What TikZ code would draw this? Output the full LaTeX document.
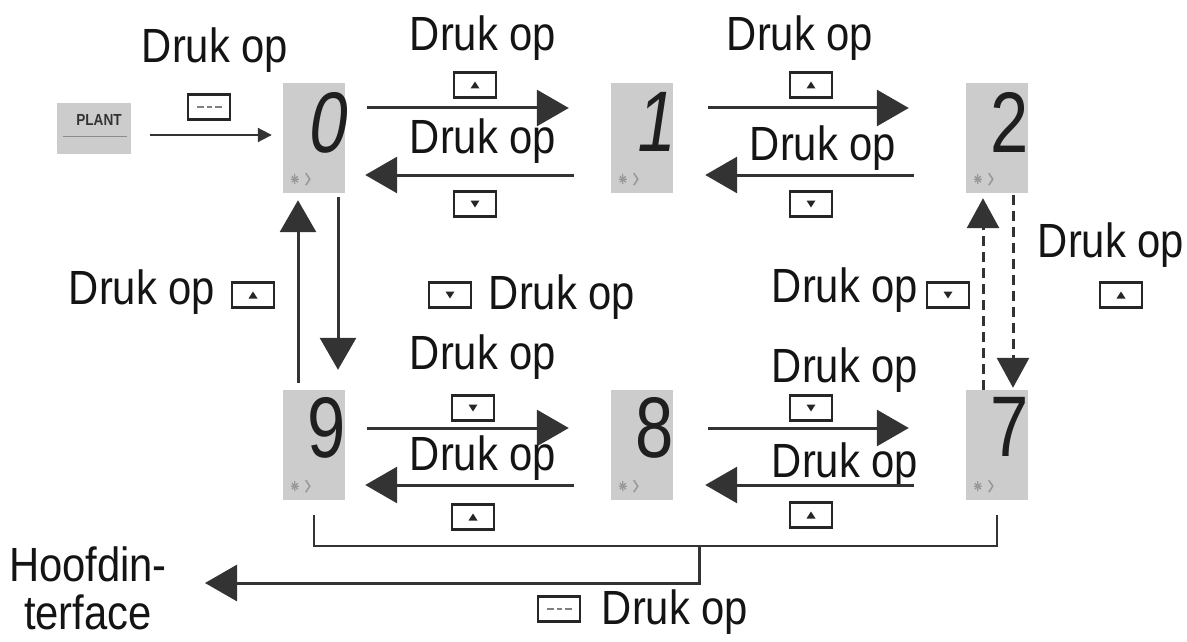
\documentclass[tikz,border=0pt]{standalone}
\usepackage{fontspec}
\setmainfont{Liberation Sans}
\newfontfamily\lblfont[FakeStretch=0.87]{Liberation Sans}
\newfontfamily\digfont[FakeStretch=0.8]{Liberation Sans}
\newfontfamily\digslfont[FakeSlant=0.15,FakeStretch=0.8]{Liberation Sans}
\newfontfamily\plfont[FakeStretch=0.85]{Liberation Sans}
\usetikzlibrary{arrows.meta,calc}
\newcommand\dispicons[1]{%
  \draw[black!40,line width=1.3pt] ([xshift=12pt,yshift=14pt]#1.south west) +(-4,0) -- +(4,0) +(0,-5) -- +(0,5) +(-3,-3) -- +(3,3) +(-3,3) -- +(3,-3);
  \draw[black!40,line width=1.6pt] ([xshift=23pt,yshift=14pt]#1.south west) +(0,-6) -- +(4,0) -- +(0,6);}
\begin{document}
\begin{tikzpicture}[x=1pt,y=-1pt,
  lbl/.style={font=\lblfont\fontsize{48}{48}\selectfont, inner sep=0pt, text=black!92},
  disp/.style={fill=black!20, minimum width=62pt, minimum height=110pt, inner sep=0pt},
  dig/.style={font=\digfont\fontsize{86}{86}\selectfont, inner sep=0pt, anchor=north east, text=black!88},
  digsl/.style={dig, font=\digslfont\fontsize{86}{86}\selectfont},
  keybox/.style={draw=black!85, line width=2.5pt, minimum width=42pt, minimum height=25pt, inner sep=0pt},
  keyup/.style={keybox, path picture={\fill[black!85] ($(path picture bounding box.center)+(-4.5,3.5)$) -- ++(9,0) -- ++(-4.5,-7) -- cycle;}},
  keydn/.style={keybox, path picture={\fill[black!85] ($(path picture bounding box.center)+(-4.5,-3.5)$) -- ++(9,0) -- ++(-4.5,7) -- cycle;}},
  keymode/.style={keybox, path picture={\draw[black!50,line width=1.2pt] ($(path picture bounding box.center)+(-12,0)$) -- ++(7,0) ++(3,0) -- ++(5,0) ++(3,0) -- ++(7,0);}},
  big/.style={line width=3pt, draw=black!80, -{Triangle[length=32pt,width=36pt]}},
  dashedarrow/.style={line width=3pt, draw=black!80, dash pattern=on 10pt off 6pt, -{Triangle[length=30pt,width=32pt]}},
  thinarrow/.style={line width=2pt, draw=black!80, -{Triangle[length=14pt,width=14pt]}},
  bracket/.style={line width=2.5pt, draw=black!80}
]
\useasboundingbox (0,0) rectangle (1187,642);

% display boxes
\node[disp] (b0) at (314,138) {};
\node[disp] (b1) at (642,138) {};
\node[disp] (b2) at (997,138) {};
\node[disp] (b9) at (314,445) {};
\node[disp] (b8) at (642,445) {};
\node[disp] (b7) at (997,445) {};
\node[digsl] (d0) at ([xshift=0pt,yshift=-9pt]b0.north east) {0};
\node[digsl] (d1) at ([xshift=0pt,yshift=-9pt]b1.north east) {1};
\node[dig] (d2) at ([xshift=1pt,yshift=-9pt]b2.north east) {2};
\node[dig] (d9) at ([xshift=1pt,yshift=-7pt]b9.north east) {9};
\node[dig] (d8) at ([xshift=1pt,yshift=-7pt]b8.north east) {8};
\node[dig] (d7) at ([xshift=1pt,yshift=-7pt]b7.north east) {7};
\foreach \b in {b0,b1,b2,b9,b8,b7} {\dispicons{\b}}

% PLANT box
\node[fill=black!20, minimum width=74pt, minimum height=51pt, inner sep=0pt] (pl) at (94,128.5) {};
\node[font=\plfont\bfseries\fontsize{16}{16}\selectfont, text=black!80, inner sep=0pt] (plt) at (99,120) {PLANT};
\draw[black!45, line width=1.5pt] ([xshift=6pt,yshift=-8pt]pl.west) -- ([xshift=-4pt,yshift=-8pt]pl.east);
\node[keymode] (kpl) at (209,107) {};
\node[lbl] (lpl) at (215,50) {Druk op};
\draw[thinarrow] ([xshift=19pt,yshift=-6.5pt]pl.east) -- ([xshift=-11pt,yshift=3pt]b0.west);

% top row
\node[lbl] (l01t) at (483,38) {Druk op};
\node[keyup] (k01u) at (475,85) {};
\draw[big] ([xshift=22pt,yshift=30pt]b0.east) -- ([xshift=-42pt,yshift=30pt]b1.west);
\node[lbl] (l01m) at (483,141) {Druk op};
\draw[big] ([xshift=-37pt,yshift=-37pt]b1.west) -- ([xshift=20pt,yshift=-37pt]b0.east);
\node[keydn] (k01d) at (475,204) {};

\node[lbl] (l12t) at (800,38) {Druk op};
\node[keyup] (k12u) at (811,85) {};
\draw[big] ([xshift=35pt,yshift=30pt]b1.east) -- ([xshift=-57pt,yshift=30pt]b2.west);
\node[lbl] (l12m) at (823,148) {Druk op};
\draw[big] ([xshift=-52pt,yshift=-37pt]b2.west) -- ([xshift=32pt,yshift=-37pt]b1.east);
\node[keydn] (k12d) at (811,204) {};

% vertical 0 <-> 9
\draw[big] ([xshift=-16pt,yshift=7pt]b9.north) -- ([xshift=-16pt,yshift=-7pt]b0.south);
\draw[big] ([xshift=24pt,yshift=-4pt]b0.south) -- ([xshift=24pt,yshift=20pt]b9.north);
\node[lbl] (lL) at (142,292) {Druk op};
\node[keyup] (kL) at (253,295) {};
\node[keydn] (kM) at (450,295) {};
\node[lbl] (lM) at (562,297) {Druk op};

% vertical 2 <-> 7
\draw[dashedarrow] ([xshift=-14pt]b7.north) -- ([xshift=-14pt,yshift=-5pt]b2.south);
\draw[dashedarrow] ([xshift=16pt,yshift=-2pt]b2.south) -- ([xshift=16pt,yshift=2pt]b7.north);
\node[lbl] (l27l) at (845,290) {Druk op};
\node[keydn] (k27d) at (948,295) {};
\node[lbl] (l27r) at (1111,245) {Druk op};
\node[keyup] (k27u) at (1121,295) {};

% bottom row
\node[lbl] (l98t) at (483,357) {Druk op};
\node[keydn] (k98d) at (473,408) {};
\draw[big] ([xshift=22pt,yshift=17pt]b9.east) -- ([xshift=-42pt,yshift=17pt]b8.west);
\node[lbl] (l98m) at (483,458) {Druk op};
\draw[big] ([xshift=-37pt,yshift=-40pt]b8.west) -- ([xshift=20pt,yshift=-40pt]b9.east);
\node[keyup] (k98u) at (473,517) {};

\node[lbl] (l87t) at (845,370) {Druk op};
\node[keydn] (k87d) at (811,408) {};
\draw[big] ([xshift=35pt,yshift=17pt]b8.east) -- ([xshift=-57pt,yshift=17pt]b7.west);
\node[lbl] (l87m) at (845,465) {Druk op};
\draw[big] ([xshift=-52pt,yshift=-40pt]b7.west) -- ([xshift=32pt,yshift=-40pt]b8.east);
\node[keyup] (k87u) at (811,515) {};

% exit to main interface
\draw[bracket] ([yshift=-15pt]b9.south) -- ([yshift=-46pt]b9.south) -| ([yshift=-15pt]b7.south);
\coordinate (brk) at (699,546);
\coordinate (exit) at (205,583);
\draw[big] (brk) |- (exit);
\node[lbl, align=center] (hoof) at (88,588) {Hoofdin-\\terface};
\node[keymode] (kB) at (559,609) {};
\node[lbl] (lB) at (675,612) {Druk op};
\end{tikzpicture}
\end{document}
